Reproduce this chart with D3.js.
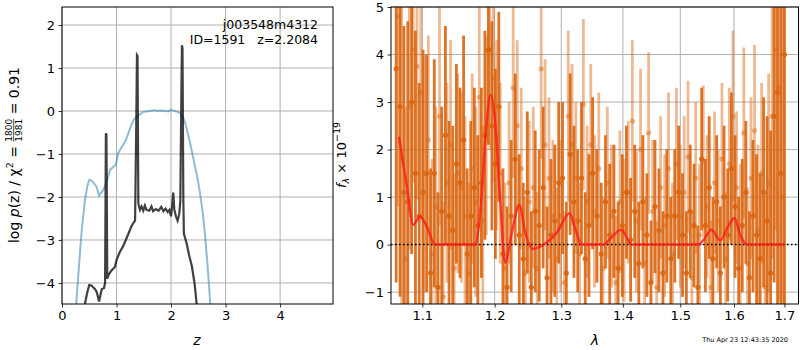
<!DOCTYPE html>
<html>
<head>
<meta charset="utf-8">
<script src="https://cdn.jsdelivr.net/npm/d3@7"></script>
<style>
body{margin:0;background:#fff;}
text{font-family:"DejaVu Sans",sans-serif;fill:#000;}
.grid line{stroke:#b0b0b0;stroke-width:1;}
</style>
</head>
<body>
<div id="chart"></div>
<script>
// p(z) panel
var zBlue = [0.26,0.30,0.36,0.42,0.47,0.50,0.54,0.57,0.63,0.68,0.72,0.76,0.82,0.88,0.94,0.99,1.03,1.10,1.17,1.25,1.31,1.40,1.49,1.55,1.60,1.70,1.75,1.80,1.90,1.95,2.00,2.05,2.12,2.17,2.22,2.26,2.30,2.35,2.40,2.44,2.49,2.53,2.58,2.62,2.67,2.72];
var pBlue = [-4.49,-3.8,-2.8,-2.07,-1.72,-1.6,-1.62,-1.66,-1.75,-1.97,-1.9,-1.83,-1.65,-1.37,-1.3,-1.24,-0.98,-0.83,-0.68,-0.4,-0.21,-0.1,-0.02,-0.01,0.0,0.02,0.0,0.01,0.0,-0.01,0.03,0.01,-0.02,-0.05,-0.15,-0.28,-0.48,-0.75,-1.05,-1.29,-1.6,-1.9,-2.35,-2.84,-3.6,-4.49];
var zDark = [0.42,0.46,0.50,0.54,0.57,0.61,0.64,0.68,0.71,0.73,0.77,0.79,0.805,0.815,0.83,0.86,0.90,0.97,1.00,1.06,1.12,1.17,1.22,1.27,1.31,1.34,1.36,1.375,1.385,1.40,1.43,1.46,1.49,1.52,1.55,1.60,1.64,1.67,1.72,1.77,1.82,1.86,1.90,1.94,1.97,2.00,2.02,2.04,2.06,2.09,2.12,2.15,2.17,2.19,2.20,2.21,2.225,2.235,2.29,2.33,2.38,2.43,2.47];
var pDark = [-4.49,-4.24,-4.05,-4.06,-4.1,-4.15,-4.22,-4.43,-4.25,-4.14,-4.12,-4.0,-0.52,-0.55,-3.9,-3.8,-3.72,-3.63,-3.47,-3.28,-3.15,-3.0,-2.85,-2.69,-2.6,-2.55,-0.5,1.3,1.28,-2.15,-2.3,-2.22,-2.32,-2.2,-2.3,-2.32,-2.22,-2.33,-2.28,-2.32,-2.23,-2.33,-2.27,-2.35,-2.3,-2.45,-2.2,-1.9,-2.3,-2.45,-2.55,-2.4,-2.1,0.5,1.53,1.45,-2.0,-2.85,-3.1,-3.35,-3.6,-4.0,-4.49];
var zTicks = [0,1,2,3,4];
var pTicks = [-4,-3,-2,-1,0,1,2];

// spectrum panel
var lamA = [1.066,1.071,1.076,1.081,1.086,1.091,1.096,1.101,1.106,1.111,1.116,1.121,1.126,1.131,1.136,1.141,1.146,1.151,1.156,1.161,1.166,1.171,1.176,1.181,1.186,1.191,1.196,1.201,1.206,
  1.212,1.218,1.224,1.230,1.236,1.242,1.248,1.254,1.260,1.266,1.272,1.278,1.284,1.290,1.296,1.302,1.308,1.314,1.320,1.326,1.332,1.338,1.344,1.350,
  1.357,1.364,1.371,1.378,1.385,1.392,1.399,1.406,1.413,1.420,1.427,1.434,1.441,1.448,1.455,1.462,1.469,1.476,1.483,1.490,1.497,1.504,1.511,1.518,1.525,1.532,1.539,
  1.546,1.553,1.560,1.567,1.574,1.581,1.588,1.595,1.602,1.609,1.616,1.623,1.630,1.637,1.644,1.651,1.658,1.665,1.672,1.679,1.686,1.693,1.700];
var fluxA = [3.7,2.9,1.1,0.9,3.0,1.5,0.6,1.1,
  1.5,-0.6,1.5,-0.9,0.7,2.3,0.6,0.3,1.7,
  1.3,2.2,-0.2,0.6,1.2,0.4,1.3,2.3,
  4.1,2.5,1.7,2.9,
  -0.2,-0.9,0.6,1.8,0.2,-0.3,1.1,
  -0.9,0.7,0.4,1.2,-0.7,0.2,0.5,1.3,
  1.4,-0.6,1.9,0.9,0.5,1.4,-0.3,0.4,1.5,
  0.6,-0.2,0.9,0.2,0.7,-0.5,0.4,1.1,0.1,
  0.7,-0.4,0.9,0.2,-0.8,0.8,0.3,-0.6,0.6,
  -0.3,0.6,1.1,0.2,-0.6,0.7,0.4,-0.9,1.8,
  0.4,1.2,-0.3,0.9,-0.6,1.0,0.2,1.6,0.8,
  -0.5,0.4,1.1,-0.7,0.6,0.2,-0.3,1.1,0.5,
  -0.6,2.7,3.2,1.5,4.0];
var errA = [4.5,4.0,3.5,3.8,3.2,3.0,2.8,3.0,
  2.5,2.2,2.4,2.0,2.2,2.3,2.0,2.2,2.1,
  2.0,2.2,1.8,2.0,2.1,1.9,2.0,2.2,
  2.0,2.2,2.0,2.0,
  1.8,1.7,1.6,1.8,1.7,1.6,1.7,
  1.6,1.7,1.6,1.7,1.5,1.6,1.6,1.7,
  1.6,1.5,1.7,1.6,1.5,1.6,1.4,1.5,1.6,
  1.4,1.5,1.4,1.5,1.4,1.4,1.5,1.4,1.3,
  1.4,1.3,1.4,1.3,1.3,1.4,1.3,1.3,1.4,
  1.3,1.4,1.4,1.3,1.3,1.4,1.3,1.3,1.5,
  1.4,1.5,1.3,1.4,1.4,1.5,1.4,1.6,1.5,
  1.5,1.4,1.5,1.4,1.6,1.7,1.8,2.0,2.2,
  3.0,3.5,4.5,5.0,5.5];

var lamB = [1.068,1.073,1.078,1.083,1.088,1.093,1.098,1.103,1.108,1.113,1.118,1.123,1.128,1.133,1.138,1.143,1.148,1.153,1.158,1.163,1.168,1.173,1.178,1.183,1.188,1.193,1.198,1.203,1.208,
  1.215,1.221,1.227,1.233,1.239,1.245,1.251,1.257,1.263,1.269,1.275,1.281,1.287,1.293,1.299,1.305,1.311,1.317,1.323,1.329,1.335,1.341,1.347,1.353,
  1.360,1.367,1.374,1.381,1.388,1.395,1.402,1.409,1.416,1.423,1.430,1.437,1.444,1.451,1.458,1.465,1.472,1.479,1.486,1.493,1.500,1.507,1.514,1.521,1.528,1.535,1.542,
  1.549,1.556,1.563,1.570,1.577,1.584,1.591,1.598,1.605,1.612,1.619,1.626,1.633,1.640,1.647,1.654,1.661,1.668,1.675,1.682,1.689,1.696];
var fluxB = [4.8,1.8,-0.3,2.9,4.1,3.75,3.2,1.5,
  2.2,-0.2,0.8,2.7,-1.1,1.3,2.1,-0.5,1.5,
  1.2,0.6,-0.6,1.6,0.9,3.1,0.5,2.3,
  4.1,3.5,2.3,1.5,
  -0.5,1.3,3.3,2.5,1.6,-0.6,0.9,
  1.2,-0.5,3.7,2.1,1.4,0.6,-0.3,0.6,
  -0.8,2.7,2.1,1.4,-0.2,2.95,0.9,2.1,0.7,
  1.6,-0.5,1.3,0.6,-0.8,0.9,0.3,1.1,2.6,
  0.5,2.0,-0.4,2.35,0.7,-0.9,1.2,0.4,1.6,
  -0.2,1.7,0.6,1.1,1.85,-0.7,1.4,0.2,1.75,
  0.8,-0.9,1.3,0.5,1.8,-0.3,1.7,2.7,1.2,
  0.1,2.35,-0.4,1.4,2.4,0.3,1.5,-0.9,1.3,
  2.7,4.1,3.3,1.0];
var errB = [4.0,3.5,3.2,3.0,2.8,2.8,2.6,2.5,
  2.2,2.0,2.1,2.3,2.0,2.1,2.2,2.0,2.1,
  2.0,2.1,1.9,2.0,2.0,2.2,2.0,2.1,
  2.1,2.2,2.0,1.9,
  1.8,1.7,1.9,1.8,1.7,1.6,1.7,
  1.7,1.6,1.9,1.8,1.7,1.6,1.5,1.6,
  1.5,1.8,1.7,1.6,1.5,1.8,1.6,1.7,1.6,
  1.6,1.5,1.6,1.5,1.4,1.5,1.5,1.5,1.7,
  1.5,1.7,1.4,1.7,1.5,1.4,1.5,1.5,1.6,
  1.5,1.6,1.5,1.6,1.6,1.4,1.6,1.5,1.6,
  1.5,1.4,1.5,1.5,1.6,1.4,1.6,1.8,1.6,
  1.6,1.8,1.6,1.7,1.8,1.8,1.9,2.0,2.3,
  3.0,3.8,4.5,5.0];

var lamModel = [1.0696,1.080,1.088,1.097,1.106,1.117,1.172,1.181,1.187,1.194,1.200,1.208,1.215,1.225,1.236,1.245,1.256,1.270,1.293,1.313,1.324,1.332,1.367,1.380,1.397,1.415,1.533,1.544,1.557,1.574,1.587,1.601,1.612,1.626,1.700];
var fModel = [2.27,1.2,0.42,0.59,0.38,0.0,0.0,1.0,2.3,3.15,2.7,0.94,-0.38,0.25,0.84,0.25,-0.09,-0.02,0.25,0.66,0.25,0.0,0.0,0.14,0.31,0.0,0.0,0.12,0.31,0.09,0.35,0.56,0.2,0.0,0.0];
var lamTicks = [1.1,1.2,1.3,1.4,1.5,1.6,1.7];
var fTicks = [-1,0,1,2,3,4,5];

var W = 800, H = 350;
var svg = d3.select("#chart").append("svg").attr("width",W).attr("height",H);

var L = {left:62, right:333, top:7, bottom:304};
var R = {left:391, right:798.5, top:7, bottom:304};

var xz = d3.scaleLinear().domain([0,4.97]).range([L.left,L.right]);
var yp = d3.scaleLinear().domain([-4.49,2.42]).range([L.bottom,L.top]);
var xl = d3.scaleLog().domain([1.0594,1.729]).range([R.left,R.right]);
var yf = d3.scaleLinear().domain([-1.25,5]).range([R.bottom,R.top]);

var defs = svg.append("defs");
defs.append("clipPath").attr("id","clipL").append("rect")
  .attr("x",L.left).attr("y",L.top).attr("width",L.right-L.left).attr("height",L.bottom-L.top);
defs.append("clipPath").attr("id","clipR").append("rect")
  .attr("x",R.left).attr("y",R.top).attr("width",R.right-R.left).attr("height",R.bottom-R.top);

function drawGrid(box, xs, ys, xt, yt){
  var g = svg.append("g").attr("class","grid");
  g.selectAll("line.gx").data(xt).enter().append("line")
    .attr("x1",function(d){return xs(d);}).attr("x2",function(d){return xs(d);})
    .attr("y1",box.top).attr("y2",box.bottom);
  g.selectAll("line.gy").data(yt).enter().append("line")
    .attr("y1",function(d){return ys(d);}).attr("y2",function(d){return ys(d);})
    .attr("x1",box.left).attr("x2",box.right);
}
drawGrid(L, xz, yp, zTicks, pTicks);
drawGrid(R, xl, yf, lamTicks, fTicks);

// left curves
var lineL = d3.line().x(function(d){return xz(d[0]);}).y(function(d){return yp(d[1]);});
var gl = svg.append("g").attr("clip-path","url(#clipL)");
gl.append("path").datum(d3.zip(zBlue,pBlue)).attr("d",lineL)
  .attr("fill","none").attr("stroke","#1f77b4").attr("stroke-opacity",0.5).attr("stroke-width",2);
gl.append("path").datum(d3.zip(zDark,pDark)).attr("d",lineL)
  .attr("fill","none").attr("stroke","#000").attr("stroke-opacity",0.75).attr("stroke-width",2.2);

// right: error bars
var gr = svg.append("g").attr("clip-path","url(#clipR)");
function errSeries(lam, f, e, op){
  var data = d3.zip(lam,f,e);
  var g = gr.append("g");
  g.selectAll("line").data(data).enter().append("line")
    .attr("x1",function(d){return xl(d[0]);}).attr("x2",function(d){return xl(d[0]);})
    .attr("y1",function(d){return yf(d[1]-d[2]);}).attr("y2",function(d){return yf(d[1]+d[2]);})
    .attr("stroke","#d9650f").attr("stroke-opacity",op).attr("stroke-width",2.8);
  g.selectAll("circle").data(data).enter().append("circle")
    .attr("cx",function(d){return xl(d[0]);}).attr("cy",function(d){return yf(d[1]);})
    .attr("r",2.6).attr("fill","#d9650f").attr("fill-opacity",op);
}
errSeries(lamB, fluxB, errB, 0.45);
errSeries(lamA, fluxA, errA, 0.9);

gr.append("line").attr("x1",R.left).attr("x2",R.right).attr("y1",yf(0)).attr("y2",yf(0))
  .attr("stroke","#000").attr("stroke-width",1.5).attr("stroke-dasharray","1.5,2.5");

var lineR = d3.line().curve(d3.curveMonotoneX).x(function(d){return xl(d[0]);}).y(function(d){return yf(d[1]);});
gr.append("path").datum(d3.zip(lamModel,fModel)).attr("d",lineR)
  .attr("fill","none").attr("stroke","#ff1a1a").attr("stroke-opacity",0.8).attr("stroke-width",2.5)
  .attr("stroke-linejoin","round");

// axes
function styleAxis(g){
  g.select(".domain").remove();
  g.selectAll(".tick line").attr("stroke","#000").attr("stroke-width",0.8);
  g.selectAll(".tick text").style("font-family","DejaVu Sans").style("font-size","13px").attr("fill","#000");
}
svg.append("g").attr("transform","translate(0,"+L.bottom+")")
  .call(d3.axisBottom(xz).tickValues(zTicks).tickFormat(d3.format("d")).tickSize(3.5).tickPadding(3.5)).call(styleAxis);
svg.append("g").attr("transform","translate("+L.left+",0)")
  .call(d3.axisLeft(yp).tickValues(pTicks).tickFormat(d3.format("d")).tickSize(3.5).tickPadding(3.5)).call(styleAxis);
svg.append("g").attr("transform","translate(0,"+R.bottom+")")
  .call(d3.axisBottom(xl).tickValues(lamTicks).tickFormat(d3.format(".1f")).tickSize(3.5).tickPadding(3.5)).call(styleAxis);
svg.append("g").attr("transform","translate("+R.left+",0)")
  .call(d3.axisLeft(yf).tickValues(fTicks).tickFormat(d3.format("d")).tickSize(3.5).tickPadding(3.5)).call(styleAxis);

[L,R].forEach(function(b){
  svg.append("rect").attr("x",b.left).attr("y",b.top).attr("width",b.right-b.left).attr("height",b.bottom-b.top)
    .attr("fill","none").attr("stroke","#000").attr("stroke-width",1);
});

// annotation
svg.append("text").attr("x",318).attr("y",29).attr("text-anchor","end").style("font-size","12.5px").text("j003548m4312");
svg.append("text").attr("x",318).attr("y",44).attr("text-anchor","end").style("font-size","12.5px").attr("xml:space","preserve").text("ID=1591   z=2.2084");

// x labels
svg.append("text").attr("x",197).attr("y",345).attr("text-anchor","middle").style("font-size","14px").style("font-style","italic").text("z");
svg.append("text").attr("x",595).attr("y",345).attr("text-anchor","middle").style("font-size","14px").style("font-style","italic").text("λ");

// left y label with fraction
var yl = svg.append("g").attr("transform","translate(19,155) rotate(-90)");
var inner = yl.append("g");
var t1 = inner.append("text").style("font-size","14px").attr("xml:space","preserve");
t1.append("tspan").text("log ");
t1.append("tspan").style("font-style","italic").text("p");
t1.append("tspan").text("(z) / χ");
t1.append("tspan").attr("dy",-6).style("font-size","9.5px").text("2");
t1.append("tspan").attr("dy",6).text(" = ");
var w1 = t1.node().getComputedTextLength();
var num = inner.append("text").style("font-size","9px").attr("y",-7.5).text("1800");
var fw = num.node().getComputedTextLength();
num.attr("x",w1);
inner.append("text").style("font-size","9px").attr("x",w1).attr("y",3).text("1981");
inner.append("line").attr("x1",w1).attr("x2",w1+fw).attr("y1",-5.3).attr("y2",-5.3).attr("stroke","#000").attr("stroke-width",0.7);
var t2 = inner.append("text").style("font-size","14px").attr("xml:space","preserve").attr("x",w1+fw).text(" = 0.91");
var total = w1 + fw + t2.node().getComputedTextLength();
inner.attr("transform","translate("+(-total/2)+",0)");

// right y label
var yr = svg.append("text").attr("transform","translate(346,155) rotate(-90)").attr("text-anchor","middle").style("font-size","13px");
yr.append("tspan").style("font-style","italic").text("f");
yr.append("tspan").attr("dy",3).style("font-size","9.5px").style("font-style","italic").text("λ");
yr.append("tspan").attr("dy",-3).text(" × 10");
yr.append("tspan").attr("dy",-6).style("font-size","9.5px").text("−19");

// timestamp
svg.append("text").attr("x",788).attr("y",342).attr("text-anchor","end").style("font-size","6.5px").text("Thu Apr 23 12:43:35 2020");
</script>
</body>
</html>
